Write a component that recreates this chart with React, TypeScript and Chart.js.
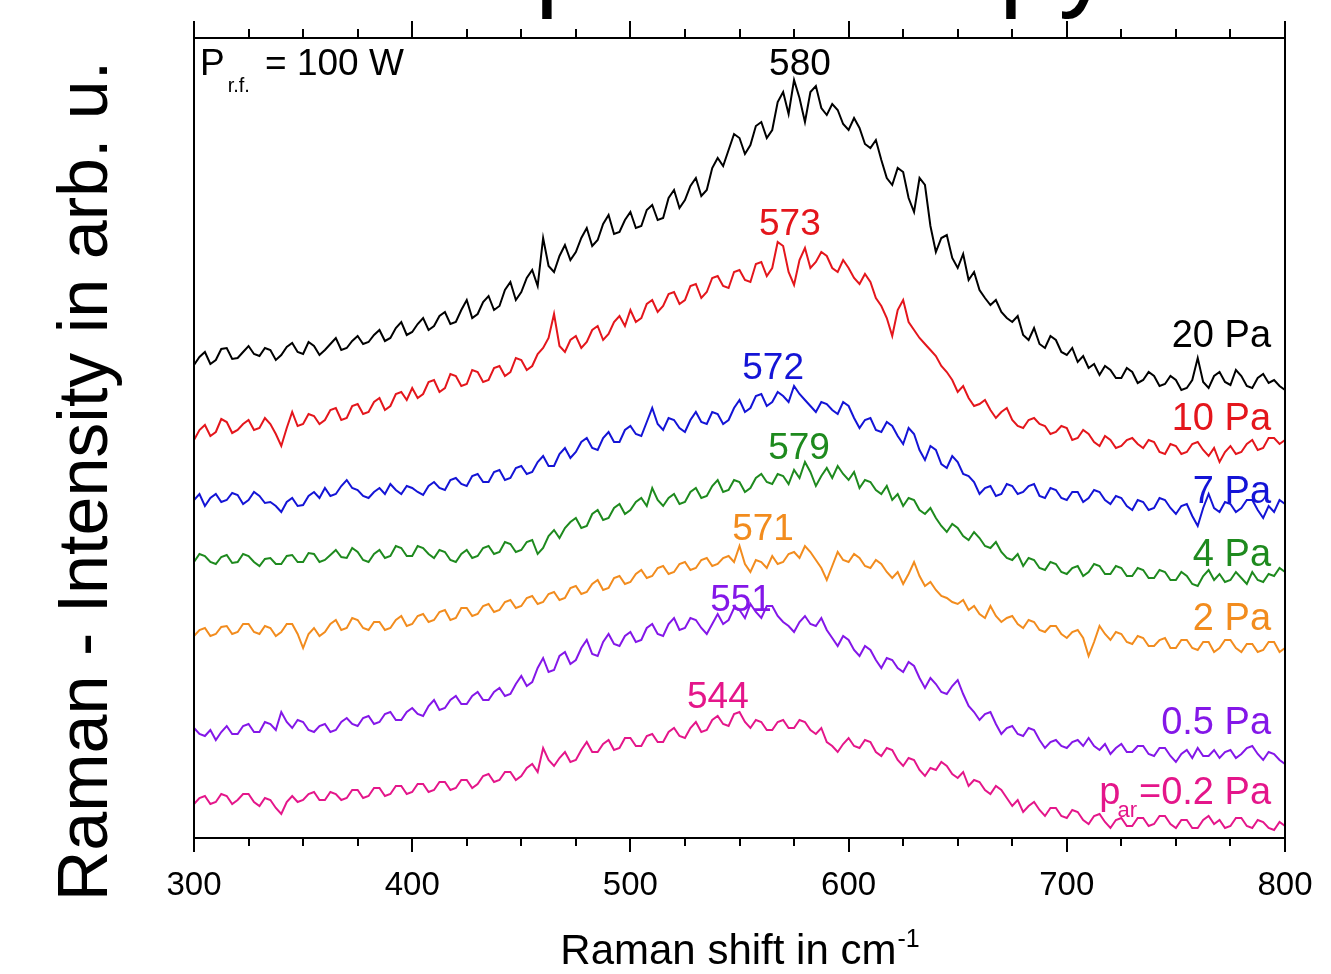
import { useEffect, useRef } from "react";
import { Chart, registerables } from "chart.js";

Chart.register(...registerables);

const FONT = '"Liberation Sans", Arial, Helvetica, sans-serif';

// Raman shift grid (cm^-1), 2.5 cm^-1 sampling
const WAVENUMBERS: number[] = Array.from({ length: 201 }, (_, i) => 300 + 2.5 * i);

// Intensities (arb. u., vertically offset spectra)
const P20 = [
  473, 481, 486, 474, 478, 489, 490, 479, 480, 486, 492, 484, 482, 490, 488, 478, 483, 491, 495, 486,
  484, 496, 492, 483, 488, 494, 500, 488, 490, 497, 502, 494, 496, 503, 508, 497, 500, 510, 516, 503,
  506, 514, 520, 508, 512, 522, 526, 514, 516, 528, 538, 520, 524, 536, 542, 528, 532, 548, 556, 538,
  546, 560, 568, 552, 600, 572, 566, 582, 593, 578, 586, 600, 610, 592, 598, 614, 623, 604, 606, 618,
  626, 610, 612, 628, 633, 618, 620, 640, 648, 630, 638, 652, 660, 642, 648, 670, 680, 672, 688, 704,
  700, 684, 693, 712, 716, 700, 708, 736, 746, 724, 758, 740, 716, 746, 752, 730, 723, 734, 728, 714,
  708, 720, 710, 694, 690, 698, 678, 660, 653, 670, 666, 640, 626, 660, 653, 612, 586, 600, 603, 580,
  570, 584, 558, 566, 548, 540, 533, 538, 526, 520, 516, 522, 503, 498, 510, 494, 490, 502, 498, 486,
  483, 490, 476, 482, 470, 474, 463, 472, 468, 460, 460, 470, 466, 455, 458, 466, 462, 452, 454, 462,
  458, 448, 450, 458, 480, 456, 450, 462, 466, 456, 453, 468, 462, 452, 450, 460, 464, 455, 458, 452,
  448,
];
const P10 = [
  398, 408, 413, 402, 406, 419, 416, 405, 408, 414, 418, 408, 410, 420, 414, 404, 392, 410, 426, 412,
  414, 424, 422, 414, 418, 428, 430, 418, 420, 432, 434, 424, 426, 436, 440, 428, 432, 444, 446, 438,
  450, 440, 444, 456, 458, 446, 450, 464, 462, 452, 454, 468, 466, 456, 458, 470, 472, 462, 466, 480,
  478, 468, 472, 484, 490, 500, 524, 492, 486, 498, 502, 490, 496, 508, 512, 498, 504, 516, 522, 512,
  528, 516, 520, 534, 538, 526, 532, 544, 546, 534, 538, 552, 554, 540, 546, 560, 562, 552, 550, 566,
  568, 558, 556, 574, 576, 562, 570, 596, 592, 566, 553, 578, 590, 570, 576, 586, 582, 570, 566, 578,
  570, 560, 554, 564, 556, 540, 532, 520, 502, 528, 538, 516, 508, 500, 494, 488, 482, 472, 466, 458,
  446, 452, 440, 432, 434, 438, 428, 420, 426, 430, 418, 412, 410, 418, 420, 414, 412, 404, 406, 412,
  410, 398, 400, 408, 404, 396, 392, 402, 398, 390, 392, 398, 400, 394, 390, 398, 396, 386, 384, 394,
  392, 384, 386, 394, 396, 388, 382, 390, 376, 386, 392, 384, 386, 394, 398, 388, 390, 400, 400, 394,
  398,
];
const P7 = [
  338, 344, 332, 340, 344, 336, 338, 345, 343, 334, 338, 346, 342, 335, 336, 332, 326, 336, 340, 332,
  333, 342, 346, 340, 350, 342, 344, 352, 358, 350, 348, 342, 340, 346, 350, 344, 354, 348, 344, 352,
  350, 346, 343, 352, 356, 350, 348, 358, 360, 354, 352, 362, 364, 356, 356, 366, 368, 358, 360, 370,
  372, 364, 366, 376, 382, 372, 372, 384, 390, 380, 386, 396, 400, 390, 388, 400, 406, 396, 396, 408,
  412, 404, 402, 416, 430, 414, 408, 420, 418, 410, 406, 418, 426, 416, 414, 426, 424, 414, 418, 430,
  438, 426, 430, 442, 444, 432, 436, 446, 442, 436, 452, 444, 438, 432, 426, 436, 434, 428, 424, 436,
  432, 420, 410, 418, 420, 408, 406, 416, 412, 402, 394, 410, 404, 388, 378, 392, 388, 374, 370, 382,
  376, 364, 362, 356, 344, 350, 352, 342, 344, 354, 352, 344, 346, 352, 354, 342, 340, 350, 348, 340,
  338, 346, 346, 336, 340, 348, 346, 338, 334, 342, 340, 332, 328, 338, 336, 328, 330, 340, 338, 330,
  324, 332, 334, 322, 312, 330, 344, 330, 326, 336, 334, 326, 330, 338, 338, 328, 320, 332, 326, 338,
  334,
];
const P4 = [
  276, 284, 282, 276, 274, 281, 283, 275, 276, 284, 282, 276, 272, 279, 280, 274, 274, 282, 283, 276,
  276, 285, 284, 276, 278, 283, 288, 281, 280, 290, 286, 278, 276, 284, 288, 280, 282, 292, 290, 282,
  282, 292, 290, 284, 280, 288, 286, 278, 276, 284, 288, 280, 282, 290, 292, 284, 286, 296, 294, 286,
  288, 296, 298, 284, 290, 302, 308, 300, 310, 316, 320, 310, 312, 324, 328, 318, 320, 330, 334, 324,
  328, 336, 340, 332, 350, 338, 332, 340, 344, 334, 336, 346, 350, 340, 342, 352, 358, 346, 348, 358,
  356, 346, 350, 360, 364, 356, 354, 364, 362, 354, 368, 360, 376, 366, 352, 362, 370, 360, 372, 364,
  358, 366, 350, 358, 356, 348, 344, 352, 338, 344, 332, 340, 338, 328, 324, 330, 320, 312, 306, 314,
  310, 302, 298, 306, 300, 292, 290, 296, 286, 280, 278, 284, 272, 280, 278, 270, 268, 276, 274, 266,
  264, 270, 272, 262, 266, 274, 272, 264, 264, 272, 270, 262, 262, 270, 268, 260, 260, 268, 266, 258,
  258, 266, 262, 254, 252, 262, 268, 258, 264, 256, 258, 266, 260, 254, 266, 258, 256, 264, 262, 270,
  266,
];
const P2 = [
  202, 208, 210, 202, 204, 211, 212, 204, 206, 214, 214, 206, 204, 212, 210, 202, 206, 214, 214, 204,
  190, 204, 210, 202, 206, 214, 218, 208, 210, 220, 218, 210, 208, 216, 216, 208, 210, 218, 222, 212,
  214, 222, 224, 216, 218, 226, 228, 218, 220, 230, 230, 222, 224, 232, 234, 226, 228, 236, 238, 230,
  232, 240, 242, 234, 236, 244, 246, 238, 240, 250, 252, 244, 246, 254, 258, 248, 250, 260, 262, 254,
  256, 264, 268, 260, 262, 270, 272, 264, 266, 274, 276, 268, 270, 278, 280, 272, 274, 280, 282, 276,
  292, 274, 266, 278, 276, 270, 282, 274, 276, 284, 286, 280, 292, 286, 278, 270, 258, 272, 286, 278,
  276, 284, 280, 272, 270, 278, 274, 266, 260, 266, 254, 264, 276, 262, 252, 256, 248, 242, 240, 236,
  234, 238, 228, 232, 224, 220, 232, 222, 216, 220, 222, 214, 210, 218, 216, 208, 206, 212, 212, 204,
  200, 206, 208, 200, 182, 196, 212, 204, 198, 206, 204, 196, 194, 202, 200, 192, 192, 198, 200, 190,
  190, 198, 198, 190, 188, 196, 196, 186, 190, 198, 198, 190, 186, 194, 194, 186, 188, 196, 196, 186,
  190,
];
const P05 = [
  110, 104, 102, 108, 98, 106, 112, 104, 104, 112, 114, 106, 106, 116, 114, 108, 126, 116, 110, 118,
  116, 108, 106, 112, 114, 106, 108, 116, 120, 114, 112, 120, 122, 114, 116, 124, 126, 118, 118, 126,
  130, 124, 122, 132, 138, 128, 130, 138, 142, 134, 134, 142, 146, 138, 138, 146, 150, 142, 144, 154,
  162, 152, 156, 170, 180, 166, 168, 182, 186, 174, 178, 190, 198, 184, 182, 196, 204, 194, 192, 202,
  206, 196, 198, 210, 214, 204, 202, 214, 220, 208, 210, 220, 218, 210, 204, 214, 224, 214, 218, 230,
  228, 220, 234, 226, 220, 232, 232, 222, 216, 212, 206, 216, 222, 214, 212, 220, 208, 200, 192, 202,
  198, 188, 182, 192, 188, 178, 170, 180, 178, 170, 166, 176, 172, 160, 150, 160, 154, 146, 144, 152,
  158, 144, 132, 126, 118, 124, 126, 114, 104, 110, 112, 104, 102, 110, 108, 98, 90, 96, 98, 92,
  90, 96, 98, 92, 100, 92, 88, 94, 84, 90, 94, 86, 86, 92, 92, 84, 82, 90, 90, 82,
  76, 84, 88, 80, 90, 82, 82, 88, 80, 86, 88, 80, 84, 90, 92, 84, 78, 86, 84, 78,
  74,
];
const P02 = [
  34, 40, 42, 34, 36, 44, 42, 34, 38, 44, 44, 36, 32, 40, 38, 30, 24, 36, 42, 36,
  38, 44, 46, 38, 38, 46, 44, 38, 40, 48, 48, 40, 42, 50, 50, 42, 44, 52, 52, 44,
  46, 54, 54, 46, 48, 56, 56, 48, 50, 58, 58, 50, 54, 62, 64, 56, 58, 66, 66, 58,
  62, 70, 74, 66, 90, 78, 72, 80, 86, 76, 78, 88, 96, 86, 86, 94, 98, 88, 90, 100,
  100, 92, 92, 102, 104, 96, 96, 106, 110, 102, 100, 110, 116, 106, 108, 118, 122, 114, 112, 124,
  126, 116, 110, 118, 116, 108, 108, 116, 118, 110, 110, 118, 116, 108, 104, 110, 96, 92, 86, 94,
  100, 92, 90, 98, 96, 86, 82, 90, 88, 78, 72, 80, 78, 68, 62, 70, 68, 76, 72, 64,
  60, 66, 52, 58, 56, 48, 44, 52, 48, 40, 32, 38, 26, 32, 36, 28, 22, 30, 30, 22,
  20, 28, 26, 18, 14, 22, 24, 16, 10, 18, 20, 12, 12, 20, 20, 12, 14, 22, 22, 14,
  10, 18, 18, 10, 10, 18, 22, 14, 18, 10, 12, 20, 20, 12, 10, 18, 16, 10, 8, 16,
  12,
];

const SERIES_VALUES = [P20, P10, P7, P4, P2, P05, P02];
const SERIES_NAMES = ["20 Pa", "10 Pa", "7 Pa", "4 Pa", "2 Pa", "0.5 Pa", "0.2 Pa"];
const SERIES_COLORS = ["#000000", "#e4161c", "#1414d6", "#1e8a1e", "#f28c1e", "#8417e8", "#e4168a"];

// Peak position labels (text, and their anchor in data coords)
const PEAK_TEXT = ["580", "573", "572", "579", "571", "551", "544"];
const PEAK_X = [577.7, 573.1, 565.4, 577.3, 560.8, 550.7, 540.1];
const PEAK_Y = [776, 616, 472, 392, 311, 240, 143];

// Pressure labels at the right edge (text centre heights, data coords)
const PRESSURE_TEXT = ["20 Pa", "10 Pa", "7 Pa", "4 Pa", "2 Pa", "0.5 Pa", "=0.2 Pa"];
const PRESSURE_Y = [505, 422, 349, 286, 222, 118, 48];
const PRESSURE_X = 793.6;

const X_MIN = 300;
const X_MAX = 800;
const Y_MIN = 0;
const Y_MAX = 800;

const decorPlugin = {
  id: "decor",
  afterDraw(chart: any) {
    const { ctx, chartArea: a, scales } = chart;
    const xs = scales.x;
    const ys = scales.y;
    ctx.save();

    // frame
    ctx.strokeStyle = "#000";
    ctx.lineWidth = 2;
    ctx.strokeRect(a.left, a.top, a.right - a.left, a.bottom - a.top);

    // tick marks (bottom outward, top outward)
    for (const t of xs.ticks) {
      const px = Math.round(xs.getPixelForValue(t.value));
      const major = t.value % 100 === 0;
      ctx.beginPath();
      ctx.moveTo(px, a.bottom);
      ctx.lineTo(px, a.bottom + (major ? 14 : 8));
      ctx.moveTo(px, a.top);
      ctx.lineTo(px, a.top - (major ? 17 : 9));
      ctx.stroke();
    }

    ctx.fillStyle = "#000";
    ctx.textBaseline = "alphabetic";

    // clipped page title fragment at the very top
    ctx.font = `107px ${FONT}`;
    ctx.textAlign = "left";
    const pre = ctx.measureText("Raman s").width;
    ctx.fillText("Raman spectroscopy", 535 - pre, -3);

    // y axis title (rotated)
    ctx.save();
    ctx.translate(107, 481);
    ctx.rotate(-Math.PI / 2);
    ctx.font = `70px ${FONT}`;
    ctx.textAlign = "center";
    ctx.fillText("Raman - Intensity in arb. u.", 0, 0);
    ctx.restore();

    // x axis title with superscript
    {
      const main = "Raman shift in cm";
      const sup = "-1";
      ctx.font = `42px ${FONT}`;
      const wm = ctx.measureText(main).width;
      ctx.font = `25px ${FONT}`;
      const wsu = ctx.measureText(sup).width;
      const cx = (a.left + a.right) / 2;
      const x0 = cx - (wm + wsu) / 2;
      ctx.textAlign = "left";
      ctx.font = `42px ${FONT}`;
      ctx.fillText(main, x0, 964);
      ctx.font = `25px ${FONT}`;
      ctx.fillText(sup, x0 + wm + 1, 947);
    }

    // P_r.f. = 100 W
    {
      ctx.textAlign = "left";
      ctx.font = `37px ${FONT}`;
      ctx.fillText("P", a.left + 6, 75);
      const wp = ctx.measureText("P").width;
      ctx.font = `20px ${FONT}`;
      ctx.fillText("r.f.", a.left + 6 + wp + 3, 92);
      ctx.font = `37px ${FONT}`;
      ctx.fillText("= 100 W", a.left + 71, 75);
    }

    // peak labels
    ctx.font = `37px ${FONT}`;
    ctx.textAlign = "center";
    for (let i = 0; i < PEAK_TEXT.length; i++) {
      ctx.fillStyle = SERIES_COLORS[i];
      const px = xs.getPixelForValue(PEAK_X[i]);
      const py = ys.getPixelForValue(PEAK_Y[i]);
      ctx.fillText(PEAK_TEXT[i], px, py + 13);
    }

    // pressure labels
    const rx = xs.getPixelForValue(PRESSURE_X);
    for (let i = 0; i < PRESSURE_TEXT.length; i++) {
      ctx.fillStyle = SERIES_COLORS[i];
      ctx.font = `38px ${FONT}`;
      ctx.textAlign = "right";
      const py = ys.getPixelForValue(PRESSURE_Y[i]) + 14;
      ctx.fillText(PRESSURE_TEXT[i], rx, py);
      if (i === PRESSURE_TEXT.length - 1) {
        const w = ctx.measureText(PRESSURE_TEXT[i]).width;
        ctx.font = `22px ${FONT}`;
        const ws = ctx.measureText("ar").width;
        ctx.fillText("ar", rx - w - 2, py + 13);
        ctx.font = `38px ${FONT}`;
        ctx.fillText("p", rx - w - 2 - ws + 3, py);
      }
    }

    ctx.restore();
  },
};

export default function App() {
  const ref = useRef<HTMLCanvasElement | null>(null);

  useEffect(() => {
    const canvas = ref.current;
    if (!canvas) return;
    const chart = new Chart(canvas, {
      type: "line",
      data: {
        datasets: SERIES_VALUES.map((vals, i) => ({
          label: SERIES_NAMES[i],
          data: WAVENUMBERS.map((x, j) => ({ x, y: vals[j] })),
          borderColor: SERIES_COLORS[i],
          backgroundColor: SERIES_COLORS[i],
          borderWidth: 2,
          pointRadius: 0,
          tension: 0,
          fill: false,
        })),
      },
      options: {
        animation: false,
        responsive: false,
        maintainAspectRatio: false,
        layout: { padding: { left: 194, right: 46, top: 38, bottom: 0 } },
        plugins: {
          legend: { display: false },
          tooltip: { enabled: false },
          title: { display: false },
        },
        scales: {
          x: {
            type: "linear",
            position: "bottom",
            min: X_MIN,
            max: X_MAX,
            afterFit: (s: any) => {
              s.height = 136;
              s.paddingLeft = 0;
              s.paddingRight = 0;
            },
            ticks: {
              stepSize: 25,
              autoSkip: false,
              maxRotation: 0,
              padding: 28,
              color: "#000",
              font: { family: FONT, size: 33 },
              callback: (v: any) => (Number(v) % 100 === 0 ? String(v) : ""),
            },
            grid: { display: false, drawTicks: false },
            border: { display: false },
          },
          y: {
            display: false,
            min: Y_MIN,
            max: Y_MAX,
          },
        },
      },
      plugins: [decorPlugin],
    });
    return () => chart.destroy();
  }, []);

  return (
    <div style={{ position: "absolute", left: 0, top: 0, width: 1331, height: 974, background: "#fff" }}>
      <canvas ref={ref} width={1331} height={974} style={{ width: 1331, height: 974, display: "block" }} />
    </div>
  );
}
